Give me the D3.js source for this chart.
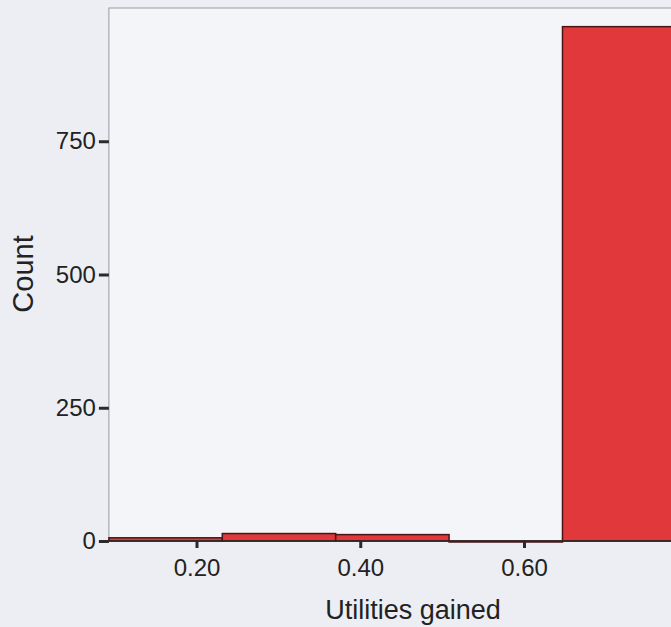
<!DOCTYPE html>
<html>
<head>
<meta charset="utf-8">
<script src="https://cdn.jsdelivr.net/npm/d3@7"></script>
<style>
  body { margin: 0; background: #eceef3; }
  svg { display: block; }
  text { font-family: "Liberation Sans", Arial, sans-serif; fill: #222; }
</style>
</head>
<body>
<div id="chart"></div>
<script>
// histogram of utilities gained (bin start, counts)
var binStarts = [0.093, 0.2315, 0.37, 0.5085, 0.647];
var binWidth = 0.1385;
var counts = [6, 14, 12, 0, 965];
var yTicks = [0, 250, 500, 750];
var xTicks = [0.20, 0.40, 0.60];

var width = 671, height = 627;
var svg = d3.select('#chart').append('svg')
  .attr('width', width)
  .attr('height', height);

var x = d3.scaleLinear()
  .domain([0.2, 0.6])
  .range([196.5, 524]);

var y = d3.scaleLinear()
  .domain([0, 1000])
  .range([541, 8]);

var x0 = x(binStarts[0]);

// plot area
svg.append('rect')
  .attr('x', x0)
  .attr('y', y(1000))
  .attr('width', width)
  .attr('height', y(0) - y(1000))
  .attr('fill', '#f4f5f8')
  .attr('stroke', '#9a9aa0')
  .attr('stroke-width', 1);

var bins = binStarts.map((s, i) => ({x0: s, x1: s + binWidth, n: counts[i]}));

svg.append('g')
  .selectAll('rect')
  .data(bins)
  .enter()
  .append('rect')
  .attr('x', d => x(d.x0))
  .attr('y', d => y(d.n))
  .attr('width', d => x(d.x1) - x(d.x0))
  .attr('height', d => Math.max(1, y(0) - y(d.n)))
  .attr('fill', '#e0383b')
  .attr('stroke', '#4a1414')
  .attr('stroke-width', 1.5);

// y axis
var yAxis = d3.axisLeft(y)
  .tickValues(yTicks)
  .tickFormat(d3.format('d'))
  .tickSize(10)
  .tickPadding(3);

var gy = svg.append('g')
  .attr('transform', 'translate(' + x0 + ',0)')
  .call(yAxis);
gy.select('.domain').remove();
gy.selectAll('line').attr('stroke', '#2a2a2a').attr('stroke-width', 3);
gy.selectAll('text').style('font-size', '24px').attr('fill', '#222');

// x axis
var xAxis = d3.axisBottom(x)
  .tickValues(xTicks)
  .tickFormat(d3.format('.2f'))
  .tickSize(7)
  .tickPadding(11);

var gx = svg.append('g')
  .attr('transform', 'translate(0,' + y(0) + ')')
  .call(xAxis);
gx.select('.domain').remove();
gx.selectAll('line').attr('stroke', '#2a2a2a').attr('stroke-width', 3);
gx.selectAll('text').style('font-size', '24px').attr('fill', '#222');

// baseline
svg.append('line')
  .attr('x1', x0).attr('x2', width)
  .attr('y1', y(0)).attr('y2', y(0))
  .attr('stroke', '#2a2a2a')
  .attr('stroke-width', 1.5);

// titles
svg.append('text')
  .attr('x', 413)
  .attr('y', 619)
  .attr('text-anchor', 'middle')
  .style('font-size', '27px')
  .text('Utilities gained');

svg.append('text')
  .attr('transform', 'translate(33,274) rotate(-90)')
  .attr('text-anchor', 'middle')
  .style('font-size', '29px')
  .text('Count');
</script>
</body>
</html>
